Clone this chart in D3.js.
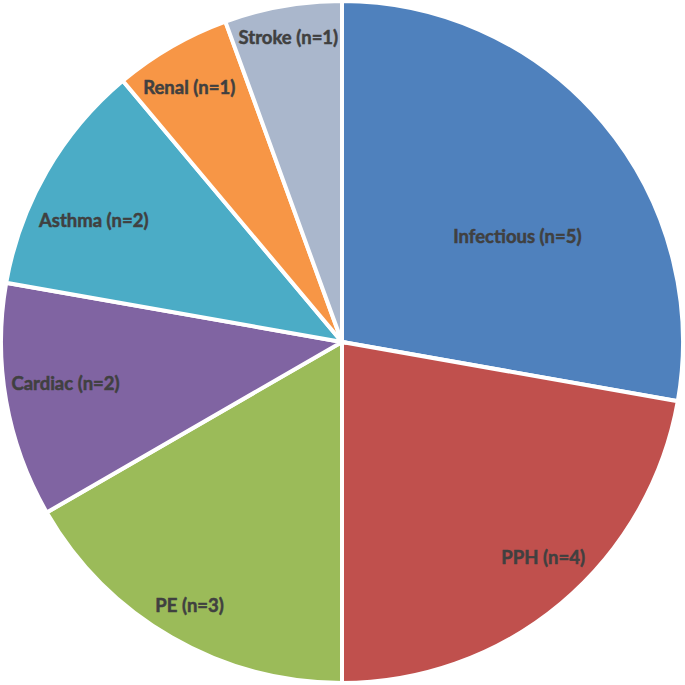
<!DOCTYPE html>
<html>
<head>
<meta charset="utf-8">
<script src="https://cdn.jsdelivr.net/npm/d3@7"></script>
<style>
html,body{margin:0;padding:0;background:#fff;}
svg{display:block;}
</style>
</head>
<body>
<svg id="chart" width="685" height="685"></svg>
<script>
const categories = ["Infectious", "PPH", "PE", "Cardiac", "Asthma", "Renal", "Stroke"];
const counts = [5, 4, 3, 2, 2, 1, 1];
const colors = ["#4F81BD", "#C0504D", "#9BBB59", "#8064A2", "#4BACC6", "#F79646", "#AAB7CC"];

const W = 685, H = 685;
const cx = 342, cy = 342, R = 341;
const svg = d3.select("#chart");
const g = svg.append("g").attr("transform", `translate(${cx},${cy})`);

const data = categories.map((c, i) => ({cat: c, n: counts[i], color: colors[i]}));
const pie = d3.pie().value(d => d.n).sort(null);
const arcs = pie(data);
const arc = d3.arc().innerRadius(0).outerRadius(R);

g.selectAll("path").data(arcs).join("path")
  .attr("d", arc)
  .attr("fill", d => d.data.color)
  .attr("stroke", "#fff")
  .attr("stroke-width", 4)
  .attr("stroke-linejoin", "miter");

// label placement (best-fit style, radius ratio and angular nudge in degrees)
const labelFit = {
  Infectious: [0.60, 9], PPH: [0.865, -3], PE: [0.894, 0], Cardiac: [0.82, 1.4],
  Asthma: [0.81, -4], Renal: [0.87, -1], Stroke: [0.906, 0]
};
g.selectAll("text").data(arcs).join("text")
  .attr("transform", d => {
    const [rr, da] = labelFit[d.data.cat];
    const a = (d.startAngle + d.endAngle) / 2 + da * Math.PI / 180;
    const r = rr * R;
    return `translate(${r * Math.sin(a)},${-r * Math.cos(a)})`;
  })
  .attr("text-anchor", "middle")
  .attr("dy", "0.35em")
  .attr("font-family", "Lato, 'Open Sans', sans-serif")
  .attr("font-weight", 700)
  .attr("font-size", "18.5px")
  .attr("fill", "#404040")
  .attr("stroke", "#404040")
  .attr("stroke-width", 0.5)
  .text(d => `${d.data.cat} (n=${d.data.n})`);
</script>
</body>
</html>
